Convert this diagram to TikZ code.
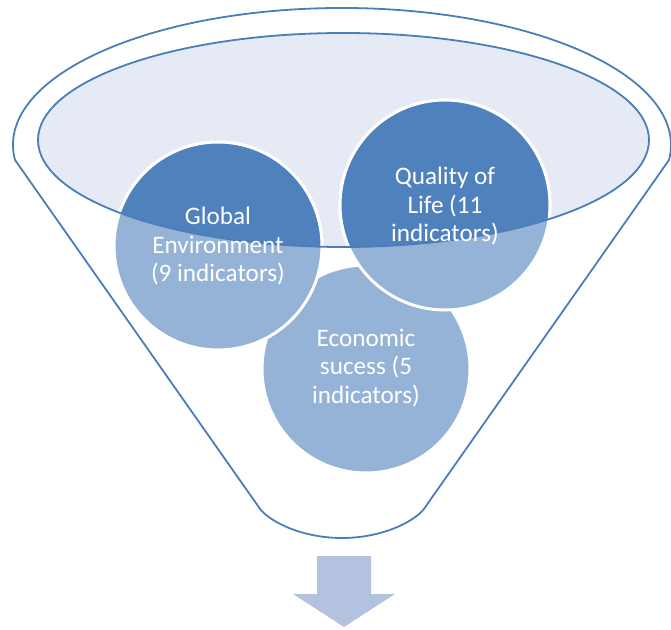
\documentclass[tikz,border=0pt]{standalone}
\usepackage{fontspec}
\setmainfont{Carlito}
\definecolor{fline}{HTML}{4A7EBB}
\definecolor{efill}{HTML}{E5EAF4}
\definecolor{cdark}{HTML}{4F81BD}
\definecolor{clight}{HTML}{95B3D7}
\definecolor{arrowc}{HTML}{B3C3DF}
\begin{document}
\begin{tikzpicture}[x=1bp,y=-1bp,
  funnel/.style={draw=fline,line width=1.8bp},
  ball/.style={draw=white,line width=3bp},
  lbl/.style={text=white,align=center,font=\fontsize{25.3}{28.5}\selectfont,inner sep=0pt}]
\useasboundingbox (0,0) rectangle (671,630);
% outer funnel outline
\draw[funnel] (258,506) -- (15,160)
  arc[start angle=173.7,end angle=366.3,x radius=329,y radius=137]
  -- (426,506) .. controls (418,520) and (384,538) .. (342,538)
  .. controls (300,538) and (266,520) .. (258,506) -- cycle;
% inner ellipse fill
\fill[efill] (343.5,140) ellipse[x radius=305.5,y radius=107];
% circles, light part
\filldraw[ball,fill=clight] (366,369) circle[radius=104];
\filldraw[ball,fill=clight] (218,246) circle[radius=104];
\filldraw[ball,fill=clight] (445,205) circle[radius=105];
% darker part inside the ellipse
\begin{scope}
  \clip (343.5,140) ellipse[x radius=305.5,y radius=107];
  \filldraw[ball,fill=cdark] (218,246) circle[radius=104];
  \filldraw[ball,fill=cdark] (445,205) circle[radius=105];
\end{scope}
% inner ellipse outline
\draw[funnel] (343.5,140) ellipse[x radius=305.5,y radius=107];
% labels
\node[lbl] (glob) at (218,246) {Global\\Environment\\(9 indicators)};
\node[lbl] (qol) at (445,206) {Quality of\\Life (11\\indicators)};
\node[lbl] (econ) at (366,368) {Economic\\sucess (5\\indicators)};
% output arrow
\fill[arrowc] (317,556) -- (371,556) -- (371,594) -- (395,594) -- (344,627)
  -- (293,594) -- (317,594) -- cycle;
\end{tikzpicture}
\end{document}
